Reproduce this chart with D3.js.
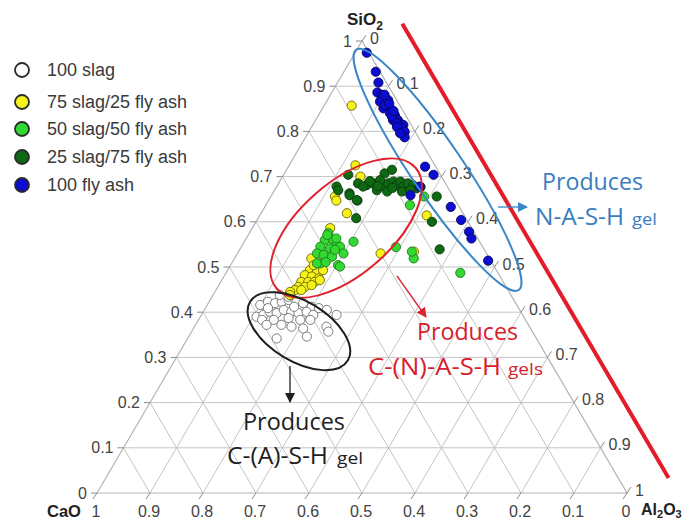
<!DOCTYPE html>
<html>
<head>
<meta charset="utf-8">
<script src="https://cdn.jsdelivr.net/npm/d3@7"></script>
<style>
  body { margin: 0; background: #fff; }
  svg { display: block; }
</style>
</head>
<body>
<svg id="chart" width="686" height="521"></svg>
<script>
// Oxide composition of each binder, as [SiO2, Al2O3] mass fractions (CaO = remainder).
const slag100 = [
  [0.416,0.100],[0.423,0.111],[0.420,0.126],[0.423,0.137],[0.427,0.148],[0.423,0.165],
  [0.420,0.179],[0.412,0.199],[0.409,0.214],[0.405,0.231],[0.390,0.106],[0.394,0.117],
  [0.401,0.125],[0.398,0.140],[0.405,0.150],[0.401,0.166],[0.398,0.181],[0.401,0.195],
  [0.394,0.211],[0.383,0.120],[0.383,0.142],[0.387,0.168],[0.383,0.192],[0.383,0.211],
  [0.368,0.183],[0.364,0.207],[0.368,0.249],[0.357,0.258],[0.342,0.168],[0.346,0.223],
  [0.372,0.134],[0.372,0.162],[0.394,0.255],[0.434,0.144],[0.438,0.126],[0.412,0.166],
  [0.409,0.118]
];
const slag75fa25 = [
  [0.857,0.052],[0.725,0.125],[0.700,0.147],[0.656,0.121],[0.647,0.128],[0.619,0.162],
  [0.586,0.147],[0.519,0.145],[0.530,0.270],[0.614,0.315],[0.534,0.331],[0.493,0.155],
  [0.490,0.170],[0.493,0.180],[0.482,0.151],[0.479,0.166],[0.475,0.181],[0.467,0.152],
  [0.467,0.165],[0.467,0.177],[0.456,0.152],[0.456,0.164],[0.460,0.175],[0.449,0.149],
  [0.449,0.161],[0.471,0.185],[0.445,0.142],[0.504,0.157],[0.438,0.145]
];
const slag50fa50 = [
  [0.556,0.206],[0.544,0.292],[0.519,0.338],[0.637,0.272],[0.656,0.289],[0.575,0.149],
  [0.560,0.150],[0.560,0.166],[0.549,0.178],[0.541,0.169],[0.545,0.149],[0.530,0.150],
  [0.527,0.164],[0.523,0.182],[0.545,0.186],[0.530,0.200],[0.504,0.203],[0.508,0.167],
  [0.563,0.170],[0.538,0.180],[0.508,0.161],[0.501,0.208],[0.487,0.442],[0.534,0.327],
  [0.571,0.149],[0.511,0.176]
];
const slag25fa75 = [
  [0.704,0.122],[0.678,0.113],[0.670,0.120],[0.663,0.145],[0.647,0.168],[0.608,0.185],
  [0.707,0.189],[0.715,0.199],[0.685,0.150],[0.681,0.168],[0.685,0.178],[0.670,0.193],
  [0.678,0.201],[0.685,0.207],[0.689,0.215],[0.681,0.224],[0.689,0.228],[0.678,0.239],
  [0.685,0.244],[0.681,0.256],[0.674,0.266],[0.667,0.242],[0.667,0.214],[0.692,0.188],
  [0.656,0.313],[0.600,0.332],[0.539,0.377],[0.678,0.163],[0.659,0.147],[0.648,0.166],
  [0.690,0.170],[0.670,0.256],[0.675,0.220],[0.677,0.272],[0.679,0.190]
];
const fa100 = [
  [0.974,0.022],[0.932,0.060],[0.908,0.077],[0.886,0.086],[0.881,0.097],[0.873,0.107],
  [0.866,0.114],[0.851,0.115],[0.855,0.122],[0.847,0.133],[0.840,0.133],[0.836,0.144],
  [0.825,0.146],[0.825,0.155],[0.818,0.163],[0.814,0.171],[0.807,0.172],[0.799,0.181],
  [0.787,0.187],[0.866,0.101],[0.858,0.114],[0.833,0.140],[0.818,0.156],[0.869,0.115],
  [0.722,0.258],[0.704,0.283],[0.678,0.270],[0.659,0.262],[0.633,0.351],[0.604,0.385],
  [0.578,0.413],[0.563,0.425],[0.514,0.481],[0.861,0.121],[0.810,0.161],[0.796,0.174],
  [0.845,0.137],[0.881,0.102]
];

const seriesNames = ["100 slag", "75 slag/25 fly ash", "50 slag/50 fly ash", "25 slag/75 fly ash", "100 fly ash"];
const seriesData  = [slag100, slag75fa25, slag50fa50, slag25fa75, fa100];
const seriesFill   = ["#ffffff", "#f6f21a", "#32d932", "#0e6a12", "#0c0cd2"];
const seriesStroke = ["#6e6e6e", "#6b6400", "#1c7a1c", "#0b3a0b", "#05055e"];

const tickValues = [0, 0.1, 0.2, 0.3, 0.4, 0.5, 0.6, 0.7, 0.8, 0.9, 1];
const tickLabels = ["0", "0.1", "0.2", "0.3", "0.4", "0.5", "0.6", "0.7", "0.8", "0.9", "1"];

// Boundary line of compositions reached by the binders (constant CaO, outside the triangle)
const limitCaO = -0.095;
const limitSiO2 = [1.038, 0.033];

// Gel regions: centre as [SiO2, Al2O3]
const gelRegions = [
  { centre: [0.715, 0.285], rx: 145, ry: 26, angle: 56,  color: "#3a86c6" },
  { centre: [0.586, 0.177], rx: 92,  ry: 46, angle: -41, color: "#e0222e" },
  { centre: [0.358, 0.202], rx: 57,  ry: 30, angle: 31,  color: "#1e1e1e" }
];

const svg = d3.select("#chart");

// Ternary projection: horizontal position from Al2O3 + SiO2/2, vertical from SiO2
const xs = d3.scaleLinear().domain([0, 1]).range([97, 627]);
const ys = d3.scaleLinear().domain([0, 1]).range([493, 41]);
const proj = (s, a) => [xs(a + s / 2), ys(s)];
const line = d3.line();

// ---- grid ----
const grid = svg.append("g").attr("stroke", "#c4c4c4").attr("stroke-width", 1).attr("fill", "none");
tickValues.slice(1, -1).forEach(v => {
  grid.append("path").attr("d", line([proj(v, 0), proj(v, 1 - v)]));        // SiO2 constant
  grid.append("path").attr("d", line([proj(0, v), proj(1 - v, v)]));        // Al2O3 constant
  grid.append("path").attr("d", line([proj(1 - v, 0), proj(0, 1 - v)]));    // CaO constant
});
svg.append("path")
  .attr("d", line([proj(0, 0), proj(1, 0), proj(0, 1)]) + "Z")
  .attr("fill", "none").attr("stroke", "#b4b4b4").attr("stroke-width", 1.2);

// ---- ticks and labels ----
const tk = svg.append("g").attr("stroke", "#8a8a8a").attr("stroke-width", 1);
const tl = svg.append("g").attr("font-family", "Liberation Sans, Arial, sans-serif")
  .attr("font-size", 16).attr("fill", "#444");
tickValues.forEach((v, i) => {
  // SiO2 along the left edge
  const pl = proj(v, 0);
  tk.append("path").attr("d", line([pl, [pl[0] - 6, pl[1]]]));
  tl.append("text").attr("x", pl[0] - 10).attr("y", pl[1]).attr("dy", "0.35em")
    .attr("text-anchor", "end").text(tickLabels[i]);
  // Al2O3 along the right edge
  const pr = proj(1 - v, v);
  tk.append("path").attr("d", line([pr, [pr[0] + 4, pr[1] - 6]]));
  tl.append("text").attr("x", pr[0] + 8).attr("y", pr[1] - 3).attr("dy", "0.35em")
    .attr("text-anchor", "start").text(tickLabels[i]);
  // CaO along the base
  const pb = proj(0, 1 - v);
  tk.append("path").attr("d", line([pb, [pb[0] - 4, pb[1] + 6]]));
  tl.append("text").attr("x", pb[0] - 1).attr("y", 517)
    .attr("text-anchor", "middle").text(tickLabels[i]);
});

// ---- axis titles ----
const at = svg.append("g").attr("font-family", "Liberation Sans, Arial, sans-serif")
  .attr("font-weight", "bold").attr("fill", "#222");
const siT = at.append("text").attr("x", 347).attr("y", 25).attr("font-size", 17);
siT.append("tspan").text("SiO");
siT.append("tspan").attr("font-size", 12).attr("dy", 5).text("2");
at.append("text").attr("x", 47).attr("y", 517).attr("font-size", 16.5).text("CaO");
const alT = at.append("text").attr("x", 641).attr("y", 515).attr("font-size", 16);
alT.append("tspan").text("Al");
alT.append("tspan").attr("font-size", 11).attr("dy", 3).text("2");
alT.append("tspan").attr("dy", -3).text("O");
alT.append("tspan").attr("font-size", 11).attr("dy", 3).text("3");

// ---- composition limit line ----
svg.append("path")
  .attr("d", line(limitSiO2.map(s => proj(s, 1 - s - limitCaO))))
  .attr("stroke", "#e31b2a").attr("stroke-width", 4).attr("fill", "none");

// ---- data points ----
seriesData.forEach((data, k) => {
  svg.append("g").selectAll("circle").data(data).join("circle")
    .attr("cx", d => proj(d[0], d[1])[0])
    .attr("cy", d => proj(d[0], d[1])[1])
    .attr("r", 4.6)
    .attr("fill", seriesFill[k])
    .attr("stroke", seriesStroke[k])
    .attr("stroke-width", 0.9);
});

// ---- gel regions ----
gelRegions.forEach(g => {
  const c = proj(g.centre[0], g.centre[1]);
  svg.append("ellipse")
    .attr("transform", `translate(${c[0]},${c[1]}) rotate(${g.angle})`)
    .attr("rx", g.rx).attr("ry", g.ry)
    .attr("fill", "none").attr("stroke", g.color).attr("stroke-width", 2);
});

// ---- arrows ----
const defs = svg.append("defs");
function marker(id, color) {
  defs.append("marker").attr("id", id)
    .attr("viewBox", "0 0 10 10").attr("refX", 9).attr("refY", 5)
    .attr("markerWidth", 10).attr("markerHeight", 10).attr("markerUnits", "userSpaceOnUse")
    .attr("orient", "auto")
    .append("path").attr("d", "M0,0 L10,5 L0,10 Z").attr("fill", color);
}
marker("arB", "#3a86c6");
marker("arR", "#e0222e");
marker("arK", "#1e1e1e");
const arrows = [
  { from: [498, 207], to: [527, 207], id: "arB", color: "#3a86c6" },
  { from: [397, 276], to: [426, 317], id: "arR", color: "#e0222e" },
  { from: [290, 366], to: [290, 402], id: "arK", color: "#1e1e1e" }
];
arrows.forEach(a => {
  svg.append("path").attr("d", line([a.from, a.to]))
    .attr("stroke", a.color).attr("stroke-width", 1.3).attr("fill", "none")
    .attr("marker-end", `url(#${a.id})`);
});

// ---- annotations ----
const notes = [
  { color: "#3a7dc0", lines: [
      { x: 542, y: 190, main: "Produces", len: 101 },
      { x: 535, y: 225, main: "N-A-S-H", len: 89, sub: "gel", subX: 632, subLen: 25 } ] },
  { color: "#d6202c", lines: [
      { x: 417, y: 340, main: "Produces", len: 101 },
      { x: 368, y: 375, main: "C-(N)-A-S-H", len: 133, sub: "gels", subX: 508, subLen: 35 } ] },
  { color: "#1e1e1e", lines: [
      { x: 243, y: 430, main: "Produces", len: 102 },
      { x: 227, y: 464, main: "C-(A)-S-H", len: 101, sub: "gel", subX: 337, subLen: 26 } ] }
];
const ng = svg.append("g").attr("font-family", "Open Sans, sans-serif");
notes.forEach(n => {
  n.lines.forEach(l => {
    ng.append("text").attr("x", l.x).attr("y", l.y).attr("font-size", 23)
      .attr("fill", n.color).attr("textLength", l.len).attr("lengthAdjust", "spacingAndGlyphs")
      .text(l.main);
    if (l.sub) {
      ng.append("text").attr("x", l.subX).attr("y", l.y).attr("font-size", 15.5)
        .attr("fill", n.color).attr("textLength", l.subLen).attr("lengthAdjust", "spacingAndGlyphs")
        .text(l.sub);
    }
  });
});

// ---- legend ----
const legendY = [70, 102, 129, 157, 185];
const lg = svg.append("g");
seriesNames.forEach((name, k) => {
  lg.append("circle").attr("cx", 22).attr("cy", legendY[k]).attr("r", 7)
    .attr("fill", seriesFill[k]).attr("stroke", "#2a2a2a").attr("stroke-width", 1.8);
  lg.append("text").attr("x", 47).attr("y", legendY[k]).attr("dy", "0.35em")
    .attr("font-family", "Liberation Sans, Arial, sans-serif").attr("font-size", 18)
    .attr("fill", "#3a3a3a").text(name);
});
</script>
</body>
</html>
